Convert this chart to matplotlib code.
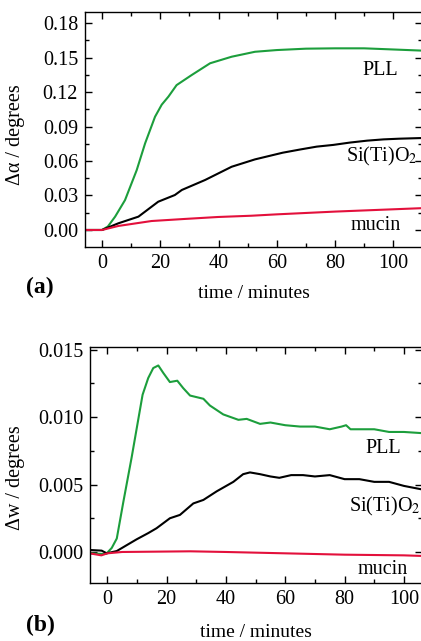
import matplotlib
matplotlib.use("Agg")
import matplotlib.pyplot as plt
from matplotlib.ticker import MultipleLocator

plt.rcParams['font.family'] = ['Liberation Serif', 'DejaVu Serif']
plt.rcParams['mathtext.fontset'] = 'stix'

GREEN = '#1c9e3c'
RED = '#e3103c'

# ---- panel (a): delta alpha ----
t_pll_a = [-6, -1, 0, 2, 4.5, 7.9, 11.9, 14.8, 18.2, 20.5, 22.8, 25.6, 30.8, 37.1, 44.5, 52.5, 60, 70, 80, 90, 100, 110]
pll_a = [0, 0, 0, 0.003, 0.0116, 0.026, 0.052, 0.0754, 0.0985, 0.109, 0.116, 0.126, 0.1348, 0.145, 0.1507, 0.155,
         0.1565, 0.1577, 0.158, 0.158, 0.157, 0.156]

t_si_a = [-6, -1, 0, 5.6, 12.5, 19.3, 25, 27.4, 35.4, 44.5, 52.5, 62, 68, 73.7, 79.4, 85, 91, 96.6, 102, 110]
si_a = [0, 0, 0, 0.0058, 0.0116, 0.0246, 0.0304, 0.0348, 0.0435, 0.055, 0.0614, 0.0672, 0.070,
        0.0725, 0.074, 0.076, 0.0777, 0.0788, 0.0794, 0.080]

t_mu_a = [-6, -1, 0, 5.6, 17, 28.4, 39.8, 51.3, 60, 80, 100, 110]
mu_a = [0, 0, 0, 0.0035, 0.0078, 0.0096, 0.0113, 0.0124, 0.0136, 0.016, 0.018, 0.019]

# ---- panel (b): delta w ----
t_pll_b = [-6, -1, -0.2, 1.5, 3.2, 5.4, 8.2, 10.5, 11.9, 13.8, 15.5, 17.2, 18.9, 21.1, 23.6, 25.6, 27.9, 32.4, 34.6,
           39.1, 44.2, 47, 51.5, 55, 60, 65, 70, 75, 79, 80.5, 82, 85, 90, 95, 100, 107]
pll_b = [-0.0001, -0.00015, -0.0001, 0.0003, 0.001, 0.0037, 0.007, 0.0099, 0.01166, 0.0129, 0.01364, 0.01383,
         0.01327, 0.0126, 0.0127, 0.01215, 0.0116, 0.01136, 0.01086, 0.0102, 0.0098, 0.00987, 0.0095, 0.0096,
         0.0094, 0.0093, 0.0093, 0.0091, 0.0093, 0.0094, 0.0091, 0.0091, 0.0091, 0.0089, 0.0089, 0.0088]

t_si_b = [-6, -1.9, -0.2, 3.2, 6.5, 9.9, 13.8, 16.6, 21.1, 24.5, 29, 32.4, 36.9, 42.5, 45.8, 48.1, 51.5, 55, 58, 62,
          66, 70, 75, 80, 85, 90, 95, 100, 107]
si_b = [0.00015, 0.0001, -0.0001, 0.00007, 0.0005, 0.00094, 0.0014, 0.00176, 0.0025, 0.00275, 0.0036, 0.00386,
        0.0045, 0.0052, 0.00577, 0.0059, 0.00577, 0.0056, 0.0055, 0.0057, 0.0057, 0.0056, 0.0057, 0.0054, 0.0054,
        0.0052, 0.0052, 0.0049, 0.0046]

t_mu_b = [-6, -2, 0, 5, 28, 40, 60, 80, 100, 107]
mu_b = [-0.0001, -0.00025, -0.0001, 0, 0.00005, 0, -0.0001, -0.0002, -0.00025, -0.0003]

W, H = 421, 641
fig = plt.figure(figsize=(W / 100, H / 100), dpi=100)

ax1 = fig.add_axes([85 / W, 1 - 247 / H, 337 / W, 235 / H])
ax2 = fig.add_axes([90 / W, 1 - 583 / H, 332 / W, 236 / H])


def style(ax):
    ax.tick_params(which='both', direction='in', top=True, right=True, labelsize=14.5, pad=5)
    ax.tick_params(which='major', length=5, width=1)
    ax.tick_params(which='minor', length=3, width=1)
    for s in ax.spines.values():
        s.set_linewidth(1)


lw = 1.5
ax1.plot(t_pll_a, pll_a, color=GREEN, lw=lw)
ax1.plot(t_si_a, si_a, color='black', lw=lw)
ax1.plot(t_mu_a, mu_a, color=RED, lw=lw)
ax1.set_xlim(-5.84, 109.85)
ax1.set_ylim(-0.0148, 0.1896)
ax1.set_xticks([0, 20, 40, 60, 80, 100])
ax1.set_yticks([0, 0.03, 0.06, 0.09, 0.12, 0.15, 0.18])
ax1.set_yticklabels(['0.00', '0.03', '0.06', '0.09', '0.12', '0.15', '0.18'])
ax1.xaxis.set_minor_locator(MultipleLocator(10))
ax1.yaxis.set_minor_locator(MultipleLocator(0.015))
style(ax1)
ax1.set_xlabel('time / minutes', fontsize=14, labelpad=9)
ax1.set_ylabel('Δα / degrees', fontsize=14.5)
ax1.yaxis.set_label_coords(-60 / 337, 0.477)
ax1.text(95.5, 0.139, 'PLL', fontsize=14.5, ha='center', va='center')
ax1.text(96, 0.0635, 'Si(Ti)O$_2$', fontsize=14.5, ha='center', va='center')
ax1.text(94, 0.0035, 'mucin', fontsize=14.5, ha='center', va='center')
fig.text(40 / W, 1 - 287 / H, '(a)', fontsize=17, fontweight='bold', ha='center', va='center')

ax2.plot(t_pll_b, pll_b, color=GREEN, lw=lw)
ax2.plot(t_si_b, si_b, color='black', lw=lw)
ax2.plot(t_mu_b, mu_b, color=RED, lw=lw)
ax2.set_xlim(-5.83, 106.1)
ax2.set_ylim(-0.0023, 0.0152)
ax2.set_xticks([0, 20, 40, 60, 80, 100])
ax2.set_yticks([0, 0.005, 0.010, 0.015])
ax2.set_yticklabels(['0.000', '0.005', '0.010', '0.015'])
ax2.xaxis.set_minor_locator(MultipleLocator(10))
ax2.yaxis.set_minor_locator(MultipleLocator(0.0025))
style(ax2)
ax2.set_xlabel('time / minutes', fontsize=14, labelpad=11)
ax2.set_ylabel('Δw / degrees', fontsize=14.5)
ax2.yaxis.set_label_coords(-65 / 332, 0.445)
ax2.text(93, 0.00765, 'PLL', fontsize=14.5, ha='center', va='center')
ax2.text(93.6, 0.0034, 'Si(Ti)O$_2$', fontsize=14.5, ha='center', va='center')
ax2.text(93, -0.0013, 'mucin', fontsize=14.5, ha='center', va='center')
fig.text(40 / W, 1 - 625 / H, '(b)', fontsize=17, fontweight='bold', ha='center', va='center')

fig.savefig('out.png', dpi=100)
